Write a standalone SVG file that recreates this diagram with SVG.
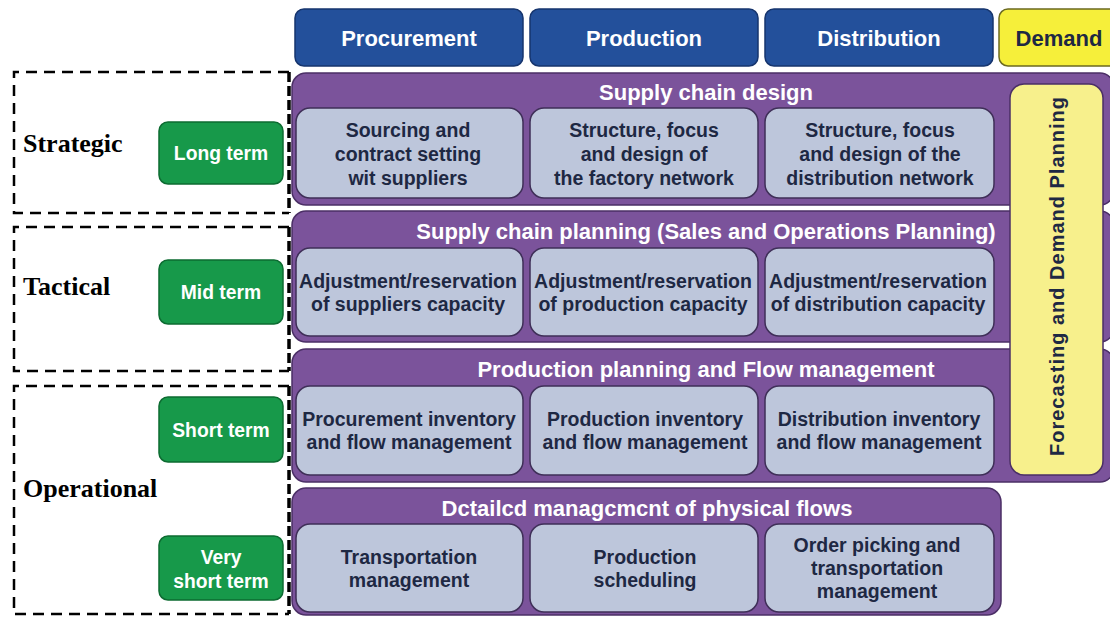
<svg xmlns="http://www.w3.org/2000/svg" width="1110" height="617" viewBox="0 0 1110 617">
<style>
.hdr{fill:#23509b;stroke:#16356e;stroke-width:1.5}
.hdrt{font-family:"Liberation Sans",Arial,sans-serif;font-weight:bold;font-size:22px;fill:#ffffff;text-anchor:middle}
.band{fill:#7b539b;stroke:#4b2f66;stroke-width:1.5}
.bandt{font-family:"Liberation Sans",Arial,sans-serif;font-weight:bold;font-size:22px;fill:#ffffff;text-anchor:middle}
.cell{fill:#bdc6db;stroke:#3f2f58;stroke-width:1.5}
.cellt{font-family:"Liberation Sans",Arial,sans-serif;font-weight:bold;font-size:19.5px;fill:#1e2843;text-anchor:middle}
.grn{fill:#17994a;stroke:#0c6b31;stroke-width:1.5}
.grnt{font-family:"Liberation Sans",Arial,sans-serif;font-weight:bold;font-size:19.3px;fill:#ffffff;text-anchor:middle}
.lvl{font-family:"Liberation Serif","Times New Roman",serif;font-weight:bold;font-size:26px;fill:#000000}
.dash{fill:none;stroke:#000000;stroke-width:2.5;stroke-dasharray:11 7}
.dashr{fill:none;stroke:#000000;stroke-width:3.5;stroke-dasharray:10 4}
</style>

<g id="header-procurement"><rect class="hdr" x="295" y="9" width="228" height="57" rx="9"/><text class="hdrt" x="409" y="46">Procurement</text></g>
<g id="header-production"><rect class="hdr" x="530" y="9" width="228" height="57" rx="9"/><text class="hdrt" x="644" y="46">Production</text></g>
<g id="header-distribution"><rect class="hdr" x="765" y="9" width="228" height="57" rx="9"/><text class="hdrt" x="879" y="46">Distribution</text></g>
<g id="header-demand"><rect x="999" y="9" width="125" height="57" rx="9" fill="#f6ef3a" stroke="#6b6a20" stroke-width="1.5"/><text class="hdrt" x="1059" y="46" style="fill:#1e2843">Demand</text></g>

<g id="band-design"><rect class="band" x="292" y="73" width="822" height="132" rx="14"/><text class="bandt" x="706" y="100">Supply chain design</text></g>
<g id="band-planning"><rect class="band" x="292" y="211" width="822" height="131" rx="14"/><text class="bandt" x="706" y="239">Supply chain planning (Sales and Operations Planning)</text></g>
<g id="band-production"><rect class="band" x="292" y="349" width="822" height="133" rx="14"/><text class="bandt" x="706" y="377">Production planning and Flow management</text></g>
<g id="band-detailed"><rect class="band" x="292" y="488" width="709" height="127" rx="14"/><text class="bandt" x="647" y="516">Dctailcd managcmcnt of physical flows</text></g>

<g id="forecasting"><rect x="1010" y="84" width="93" height="391" rx="14" fill="#f7f08c" stroke="#4b2f66" stroke-width="1.5"/><text class="cellt" transform="translate(1064,276) rotate(-90)" style="font-size:20px;letter-spacing:1px">Forecasting and Demand Planning</text></g>

<g id="cell-1-1"><rect class="cell" x="296" y="108" width="227" height="90" rx="14"/><text class="cellt" x="408" y="137">Sourcing and</text><text class="cellt" x="408" y="161">contract setting</text><text class="cellt" x="408" y="185">wit suppliers</text></g>
<g id="cell-1-2"><rect class="cell" x="530" y="108" width="228" height="90" rx="14"/><text class="cellt" x="644" y="137">Structure, focus</text><text class="cellt" x="644" y="161">and design of</text><text class="cellt" x="644" y="185">the factory network</text></g>
<g id="cell-1-3"><rect class="cell" x="765" y="108" width="229" height="90" rx="14"/><text class="cellt" x="880" y="137">Structure, focus</text><text class="cellt" x="880" y="161">and design of the</text><text class="cellt" x="880" y="185">distribution network</text></g>

<g id="cell-2-1"><rect class="cell" x="296" y="248" width="227" height="88" rx="14"/><text class="cellt" x="408" y="288">Adjustment/reservation</text><text class="cellt" x="408" y="311">of suppliers capacity</text></g>
<g id="cell-2-2"><rect class="cell" x="530" y="248" width="228" height="88" rx="14"/><text class="cellt" x="643" y="288">Adjustment/reservation</text><text class="cellt" x="643" y="311">of production capacity</text></g>
<g id="cell-2-3"><rect class="cell" x="765" y="248" width="229" height="88" rx="14"/><text class="cellt" x="878" y="288">Adjustment/reservation</text><text class="cellt" x="878" y="311">of distribution capacity</text></g>

<g id="cell-3-1"><rect class="cell" x="296" y="386" width="227" height="89" rx="14"/><text class="cellt" x="409" y="426">Procurement inventory</text><text class="cellt" x="409" y="449">and flow management</text></g>
<g id="cell-3-2"><rect class="cell" x="530" y="386" width="228" height="89" rx="14"/><text class="cellt" x="645" y="426">Production inventory</text><text class="cellt" x="645" y="449">and flow management</text></g>
<g id="cell-3-3"><rect class="cell" x="765" y="386" width="229" height="89" rx="14"/><text class="cellt" x="879" y="426">Distribution inventory</text><text class="cellt" x="879" y="449">and flow management</text></g>

<g id="cell-4-1"><rect class="cell" x="296" y="524" width="227" height="88" rx="14"/><text class="cellt" x="409" y="564">Transportation</text><text class="cellt" x="409" y="587">management</text></g>
<g id="cell-4-2"><rect class="cell" x="530" y="524" width="228" height="88" rx="14"/><text class="cellt" x="645" y="564">Production</text><text class="cellt" x="645" y="587">scheduling</text></g>
<g id="cell-4-3"><rect class="cell" x="765" y="524" width="229" height="88" rx="14"/><text class="cellt" x="877" y="552">Order picking and</text><text class="cellt" x="877" y="575">transportation</text><text class="cellt" x="877" y="598">management</text></g>

<g id="level-strategic"><path class="dash" d="M289,72 H14 V213 H289"/><path class="dashr" d="M289,72 V213"/><text class="lvl" x="23" y="152">Strategic</text></g>
<g id="level-tactical"><path class="dash" d="M289,227 H14 V371 H289"/><path class="dashr" d="M289,227 V371"/><text class="lvl" x="23" y="295">Tactical</text></g>
<g id="level-operational"><path class="dash" d="M289,386 H14 V614 H289"/><path class="dashr" d="M289,386 V614"/><text class="lvl" x="23" y="497">Operational</text></g>

<g id="term-long"><rect class="grn" x="159" y="122" width="124" height="62" rx="9"/><text class="grnt" x="221" y="160">Long term</text></g>
<g id="term-mid"><rect class="grn" x="159" y="260" width="124" height="64" rx="9"/><text class="grnt" x="221" y="299">Mid term</text></g>
<g id="term-short"><rect class="grn" x="159" y="397" width="124" height="65" rx="9"/><text class="grnt" x="221" y="437">Short term</text></g>
<g id="term-veryshort"><rect class="grn" x="159" y="536" width="124" height="64" rx="9"/><text class="grnt" x="221" y="564">Very</text><text class="grnt" x="221" y="588">short term</text></g>

<g id="connectors"></g>
</svg>
